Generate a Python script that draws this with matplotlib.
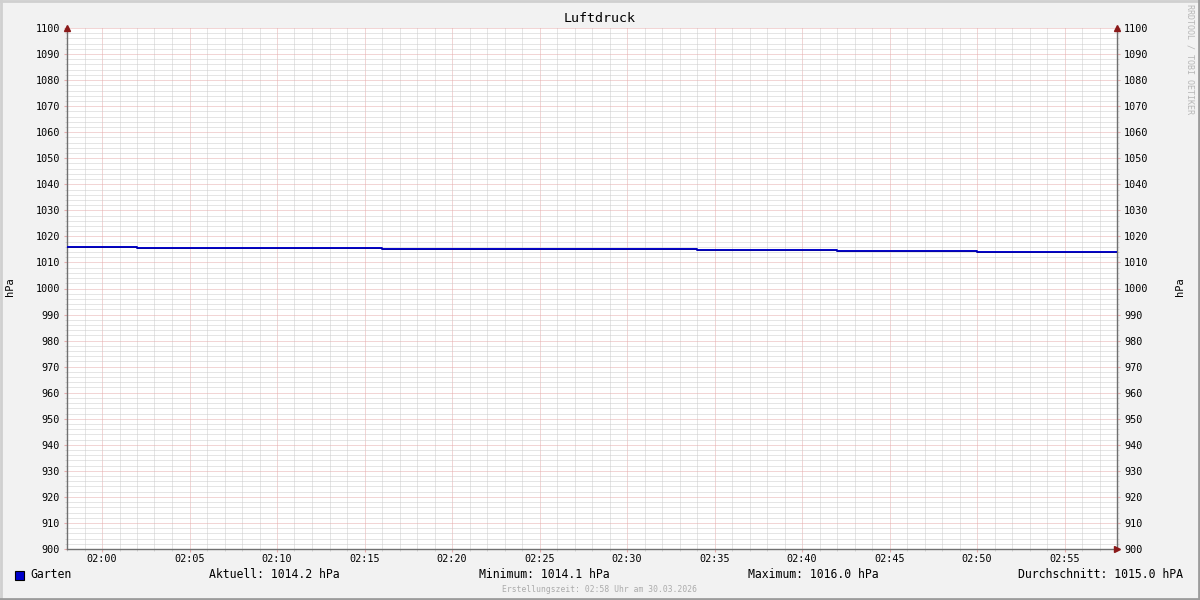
from __future__ import annotations

import matplotlib

matplotlib.use("Agg")
import matplotlib.dates as mdates
import matplotlib.pyplot as plt
import pandas as pd
from matplotlib.lines import Line2D
from matplotlib.patches import Rectangle

# data: step changes of the pressure series (hPa)
step_times = ["01:58", "02:02", "02:16", "02:34", "02:42", "02:50", "02:58"]
pressure = [1016.0, 1015.6, 1015.2, 1014.9, 1014.5, 1014.2, 1014.2]

series_name = "Garten"
stat_labels = ["Aktuell", "Minimum", "Maximum", "Durchschnitt"]
stat_values = [1014.2, 1014.1, 1016.0, 1015.0]
stat_units = ["hPa", "hPa", "hPa", "hPA"]

title = "Luftdruck"
unit_label = "hPa"
footer = "Erstellungszeit: 02:58 Uhr am 30.03.2026"
watermark = "RRDTOOL / TOBI OETIKER"
y_range = (900, 1100)

BACK = "#F2F2F2"
LINE = "#0000CC"
LINE_DARK = "#000066"
AXIS = "#707070"
ARROW = "#8B1A1A"
MAJOR_GRID = "#E6ACAC"
MINOR_GRID = "#CDCDCD"
FONT = "DejaVu Sans Mono"


def configure_style() -> None:
    plt.rcParams.update(
        {
            "figure.facecolor": BACK,
            "axes.facecolor": "white",
            "font.family": FONT,
            "font.size": 7.3,
        }
    )


def style_axes(ax: plt.Axes) -> None:
    ax.spines["top"].set_visible(False)
    for spine in ("left", "bottom", "right"):
        ax.spines[spine].set_color(AXIS)
        ax.spines[spine].set_linewidth(1.0)
    ax.set_ylim(*y_range)
    ax.yaxis.set_major_locator(plt.MultipleLocator(10))
    ax.yaxis.set_minor_locator(plt.MultipleLocator(2))
    ax.xaxis.set_major_locator(mdates.MinuteLocator(byminute=range(0, 60, 5)))
    ax.xaxis.set_minor_locator(mdates.MinuteLocator())
    ax.xaxis.set_major_formatter(mdates.DateFormatter("%H:%M"))
    ax.tick_params(which="major", length=2, width=0.8, color=MAJOR_GRID, labelsize=7.3)
    ax.tick_params(which="minor", length=1.5, width=0.6, color=MINOR_GRID)
    ax.tick_params(axis="y", right=True, labelright=True, which="both")
    ax.tick_params(axis="y", which="major", pad=3)
    ax.tick_params(axis="x", which="major", pad=1.5)
    ax.grid(which="minor", color=MINOR_GRID, linestyle=(0, (1, 1)), linewidth=0.72)
    ax.grid(which="major", color=MAJOR_GRID, linestyle=(0, (1, 1)), linewidth=0.72)
    ax.set_axisbelow(True)


def add_frame(fig: plt.Figure) -> None:
    fig.add_artist(Line2D([0, 1], [0.998, 0.998], color="#D0D0D0", linewidth=2, transform=fig.transFigure))
    fig.add_artist(Line2D([0.001, 0.001], [0, 1], color="#D0D0D0", linewidth=2, transform=fig.transFigure))
    fig.add_artist(Line2D([0, 1], [0.002, 0.002], color="#9C9C9C", linewidth=2, transform=fig.transFigure))
    fig.add_artist(Line2D([0.999, 0.999], [0, 1], color="#9C9C9C", linewidth=2, transform=fig.transFigure))


def main() -> None:
    configure_style()
    times = pd.to_datetime(["2026-03-30 " + t for t in step_times])

    fig = plt.figure(figsize=(12, 6), dpi=100)
    ax = fig.add_axes([67 / 1200, 1 - 549 / 600, 1050 / 1200, 521 / 600])
    style_axes(ax)
    ax.set_xlim(times[0], times[-1])

    ax.step(times, pressure, where="post", color=LINE, linewidth=1.4, zorder=3)
    ax.step(times, pressure, where="post", color=LINE_DARK, linewidth=0.4, zorder=4, alpha=0.6)

    for x in (10, 1180):
        fig.text(x / 1200, 1 - 287 / 600, unit_label, rotation=90, ha="center", va="center", fontsize=7.5)

    for x, y, marker in [(0, 1, "^"), (1, 1, "^"), (1, 0, ">")]:
        ax.plot(x, y, marker=marker, color=ARROW, markersize=4, transform=ax.transAxes, clip_on=False, zorder=6)

    fig.text(0.5, 1 - 19 / 600, title, ha="center", va="center", fontsize=9.6)
    fig.text(1190 / 1200, 1 - 4 / 600, watermark, rotation=270, ha="center", va="top", fontsize=6, color="#B8B8B8")

    legend_y = 1 - 575 / 600
    fig.add_artist(Rectangle((15 / 1200, 1 - 580 / 600), 9 / 1200, 9 / 600, facecolor=LINE,
                             edgecolor="black", linewidth=0.8, transform=fig.transFigure))
    fig.text(30 / 1200, legend_y, series_name, ha="left", va="center", fontsize=8.3)
    stat_x = [274, 544, 813, 1183]
    for i, (label, value, unit) in enumerate(zip(stat_labels, stat_values, stat_units)):
        align = "right" if i == len(stat_labels) - 1 else "center"
        fig.text(stat_x[i] / 1200, legend_y, f"{label}: {value:.1f} {unit}", ha=align, va="center", fontsize=8.3)

    fig.text(0.5, 1 - 589 / 600, footer, ha="center", va="center", fontsize=5.8, color="#ABABAB")
    add_frame(fig)

    fig.savefig("out.png", dpi=100, facecolor=BACK)
    plt.close(fig)


if __name__ == "__main__":
    main()
